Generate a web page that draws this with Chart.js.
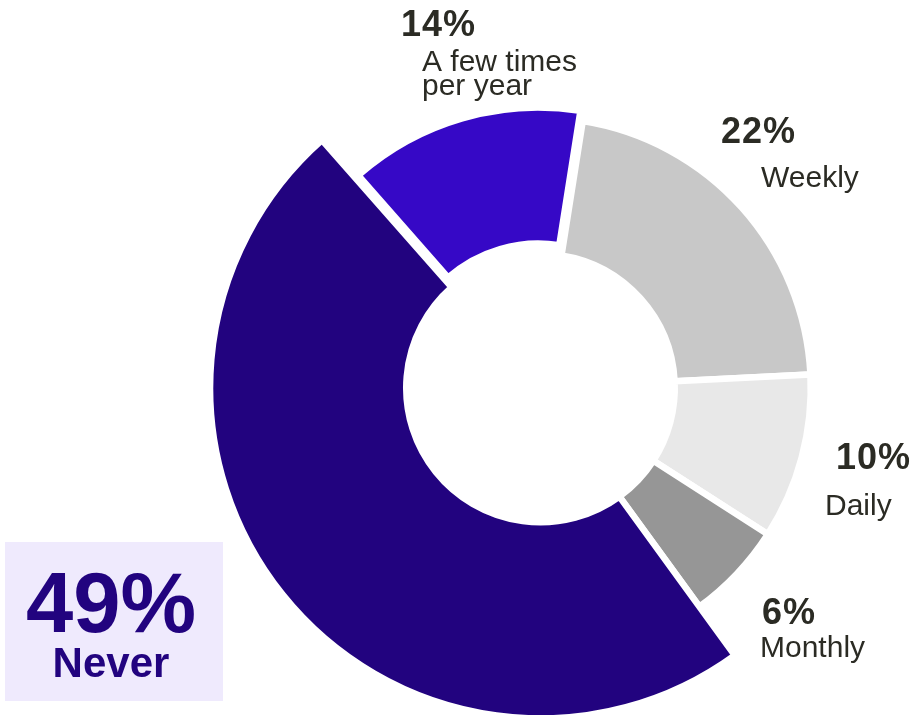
<!DOCTYPE html>
<html>
<head>
<meta charset="utf-8">
<script src="https://cdn.jsdelivr.net/npm/chart.js@4.4.1/dist/chart.umd.min.js"></script>
<style>
  html, body { margin: 0; padding: 0; background: #ffffff; }
  #wrap { position: relative; width: 915px; height: 715px; }
</style>
</head>
<body>
<div id="wrap"><canvas id="c" width="915" height="715"></canvas></div>
<script>
// ---- data ----
const categories = ['A few times per year', 'Weekly', 'Daily', 'Monthly', 'Never'];
const shares = [14.0, 21.7, 9.9, 5.9, 48.5];           // share of respondents (%)
const percentLabels = ['14%', '22%', '10%', '6%', '49%'];
const nameLines = [['A few times', 'per year'], ['Weekly'], ['Daily'], ['Monthly'], ['Never']];

// ---- styles ----
const colors = ['#3608C6', '#C8C8C8', '#E8E8E8', '#969696', '#22037F'];
const offsets = [34, 0, 0, 0, 0];
const emphasisIndex = 4;
const emphasisScale = 1.2225;
const textColor = '#2B2B24';
const fontFamily = '"Liberation Sans", Arial, Helvetica, sans-serif';

// label placement (text layout only)
const labelLayout = [
  { px: 401, py: 36,  nx: 422, ny: 71, lh: 24 },
  { px: 721, py: 143, nx: 761, ny: 187, lh: 24 },
  { px: 836, py: 469, nx: 825, ny: 515, lh: 24 },
  { px: 762, py: 624, nx: 760, ny: 657, lh: 24 }
];
const boxLayout = { x: 5, y: 542, w: 218, h: 159, cx: 111, py: 632, ny: 677, bg: '#EFEAFD' };

const emphasisPlugin = {
  id: 'emphasis',
  afterDatasetsUpdate(chart) {
    const arc = chart.getDatasetMeta(0).data[emphasisIndex];
    if (arc) arc.outerRadius = arc.outerRadius * emphasisScale;
  }
};

const labelPlugin = {
  id: 'labels',
  afterDraw(chart) {
    const ctx = chart.ctx;
    ctx.save();
    ctx.textBaseline = 'alphabetic';
    labelLayout.forEach((L, i) => {
      ctx.fillStyle = textColor;
      ctx.textAlign = 'left';
      ctx.font = 'bold 36px ' + fontFamily;
      if ('letterSpacing' in ctx) ctx.letterSpacing = '1px';
      ctx.fillText(percentLabels[i], L.px, L.py);
      if ('letterSpacing' in ctx) ctx.letterSpacing = '0px';
      ctx.font = '30px ' + fontFamily;
      nameLines[i].forEach((line, k) => ctx.fillText(line, L.nx, L.ny + k * L.lh));
    });
    const B = boxLayout;
    ctx.fillStyle = B.bg;
    ctx.fillRect(B.x, B.y, B.w, B.h);
    ctx.fillStyle = colors[emphasisIndex];
    ctx.textAlign = 'center';
    ctx.font = 'bold 85px ' + fontFamily;
    ctx.fillText(percentLabels[emphasisIndex], B.cx, B.py);
    ctx.font = 'bold 42px ' + fontFamily;
    ctx.fillText(nameLines[emphasisIndex][0], B.cx, B.ny);
    ctx.restore();
  }
};

new Chart(document.getElementById('c'), {
  type: 'doughnut',
  data: {
    labels: categories,
    datasets: [{
      data: shares,
      backgroundColor: colors,
      borderColor: '#ffffff',
      borderWidth: 6.5,
      borderJoinStyle: 'miter',
      offset: offsets
    }]
  },
  options: {
    responsive: false,
    animation: false,
    events: [],
    rotation: -41.4,
    radius: 270.3,
    cutout: '49.67%',
    layout: { padding: { left: 166, right: 0, top: 61, bottom: 0 } },
    plugins: { legend: { display: false }, tooltip: { enabled: false } }
  },
  plugins: [emphasisPlugin, labelPlugin]
});
</script>
</body>
</html>
